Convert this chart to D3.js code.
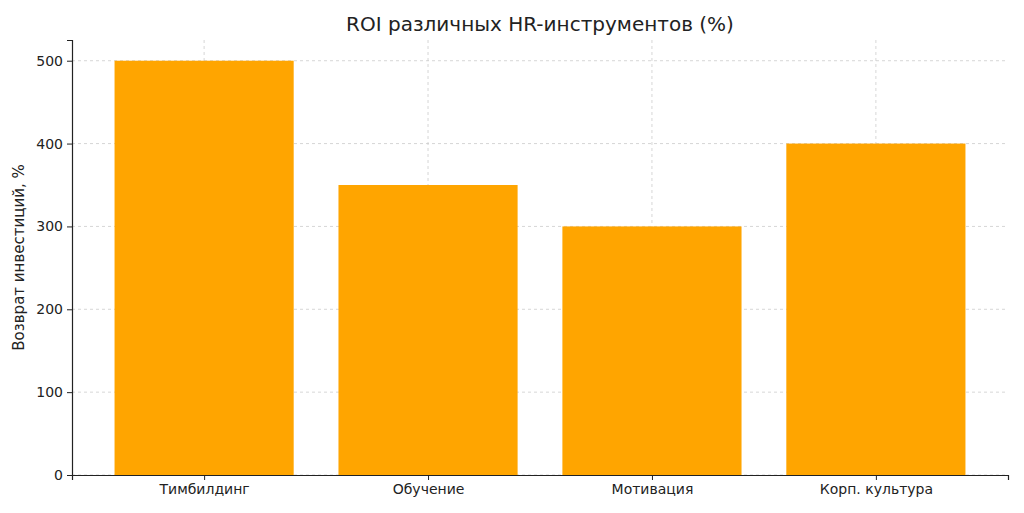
<!DOCTYPE html>
<html><head><meta charset="utf-8">
<script src="https://cdn.jsdelivr.net/npm/d3@7"></script>
<style>body{margin:0;background:#fff}text{font-family:"DejaVu Sans",sans-serif}</style>
</head><body><div id="plot"></div>
<script>
var categories = ["Тимбилдинг", "Обучение", "Мотивация", "Корп. культура"];
var roiValues = [500, 350, 300, 400];
var yTicks = [0, 100, 200, 300, 400, 500];

var W = 1024, H = 513;
var margin = {top: 40, right: 16, bottom: 38, left: 72};
var width = W - margin.left - margin.right,
    height = H - margin.top - margin.bottom;

var svg = d3.select("#plot").append("svg").attr("width", W).attr("height", H);
var chart = svg.append("g").attr("transform", "translate(" + margin.left + "," + margin.top + ")");

// bar width 0.8 of unit, xlim -0.59..3.59
var x = d3.scaleLinear().domain([-0.59, 3.59]).range([0, width]);
var y = d3.scaleLinear().domain([0, 525]).range([height, 0]);

// grid
chart.selectAll(".hgrid").data(yTicks).enter().append("line")
  .attr("x1", 0).attr("x2", width)
  .attr("y1", function(d) { return y(d); }).attr("y2", function(d) { return y(d); })
  .style("stroke", "#ccc").style("stroke-dasharray", "3,3").style("stroke-width", 0.8);
chart.selectAll(".vgrid").data(categories).enter().append("line")
  .attr("x1", function(d, i) { return x(i); }).attr("x2", function(d, i) { return x(i); })
  .attr("y1", 0).attr("y2", height)
  .style("stroke", "#ccc").style("stroke-dasharray", "3,3").style("stroke-width", 0.8);

// bars
chart.selectAll(".bar").data(roiValues).enter().append("rect")
  .attr("x", function(d, i) { return x(i - 0.4); })
  .attr("width", x(0.8) - x(0))
  .attr("y", function(d) { return y(d); })
  .attr("height", function(d) { return height - y(d); })
  .style("fill", "#FFA500");

// axes
var yAxis = d3.axisLeft(y).tickValues(yTicks).tickSize(5).tickPadding(4);
var gy = chart.append("g").call(yAxis);
var xAxis = d3.axisBottom(x).tickValues([0, 1, 2, 3])
  .tickFormat(function(d) { return categories[d]; }).tickSize(5).tickPadding(4);
var gx = chart.append("g").attr("transform", "translate(0," + height + ")").call(xAxis);
[gy, gx].forEach(function(g) {
  g.selectAll("text").style("font-size", "14px").style("fill", "#222");
  g.select(".domain").style("stroke", "#222").style("stroke-width", 1.2);
  g.selectAll(".tick line").style("stroke", "#222");
});

svg.append("text").attr("x", margin.left + width / 2).attr("y", 31)
  .attr("text-anchor", "middle").style("font-size", "20px").style("fill", "#222")
  .text("ROI различных HR-инструментов (%)");
svg.append("text").attr("transform", "translate(24," + (margin.top + height / 2) + ") rotate(-90)")
  .attr("text-anchor", "middle").style("font-size", "15px").style("fill", "#222")
  .text("Возврат инвестиций, %");
</script></body></html>
